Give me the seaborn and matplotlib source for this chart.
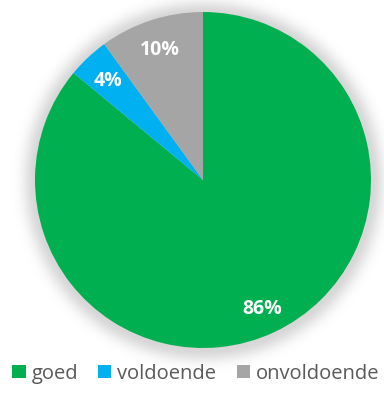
import matplotlib
matplotlib.use("Agg")
import matplotlib.pyplot as plt
from matplotlib.patches import Patch
import numpy as np
import seaborn as sns

categories = ["goed", "voldoende", "onvoldoende"]
values = [86, 4, 10]
colors = ["#00B050", "#00B0F0", "#A5A5A5"]

sns.set_theme(style="white")
plt.rcParams["font.family"] = ["Open Sans", "DejaVu Sans"]

fig = plt.figure(figsize=(3.84, 3.94), dpi=100)
lim = 1.15
w_px, h_px = 336 / 384, 336 / 394
ax = fig.add_axes([35 / 384 - (lim - 1) * w_px / 2, 46 / 394 - (lim - 1) * h_px / 2,
                   w_px * lim, h_px * lim])

# soft shadow around the pie
g = np.linspace(-lim, lim, 500)
xx, yy = np.meshgrid(g, g)
rr = np.hypot(xx, yy + 0.01)
alpha = np.where(rr > 1.0, 0.16 * np.exp(-((rr - 1.0) / 0.075) ** 2), 0.16)
shadow = np.zeros((500, 500, 4))
shadow[..., 3] = alpha
ax.imshow(shadow, extent=(-lim, lim, -lim, lim), origin="lower", zorder=0,
          interpolation="bilinear")

wedges, texts = ax.pie(
    values,
    colors=colors,
    startangle=90,
    counterclock=False,
    radius=1.0,
    wedgeprops=dict(linewidth=0, zorder=2),
)
ax.set_xlim(-lim, lim)
ax.set_ylim(-lim, lim)
ax.set_aspect("equal")
ax.axis("off")

for w, v in zip(wedges, values):
    ang = np.deg2rad((w.theta1 + w.theta2) / 2)
    d = 0.83
    ax.text(d * np.cos(ang), d * np.sin(ang), f"{v}%", ha="center",
            va="center_baseline", color="white", fontsize=14, fontweight="bold",
            zorder=3)

handles = [Patch(facecolor=c, edgecolor="none") for c in colors]
fig.legend(handles, categories, loc="lower center", bbox_to_anchor=(0.51, -0.02),
           ncol=3, frameon=False, fontsize=14.5, handlelength=0.65, handleheight=0.65,
           handletextpad=0.3, columnspacing=1.0, labelcolor="#595959")

fig.savefig("out.png", dpi=100)
